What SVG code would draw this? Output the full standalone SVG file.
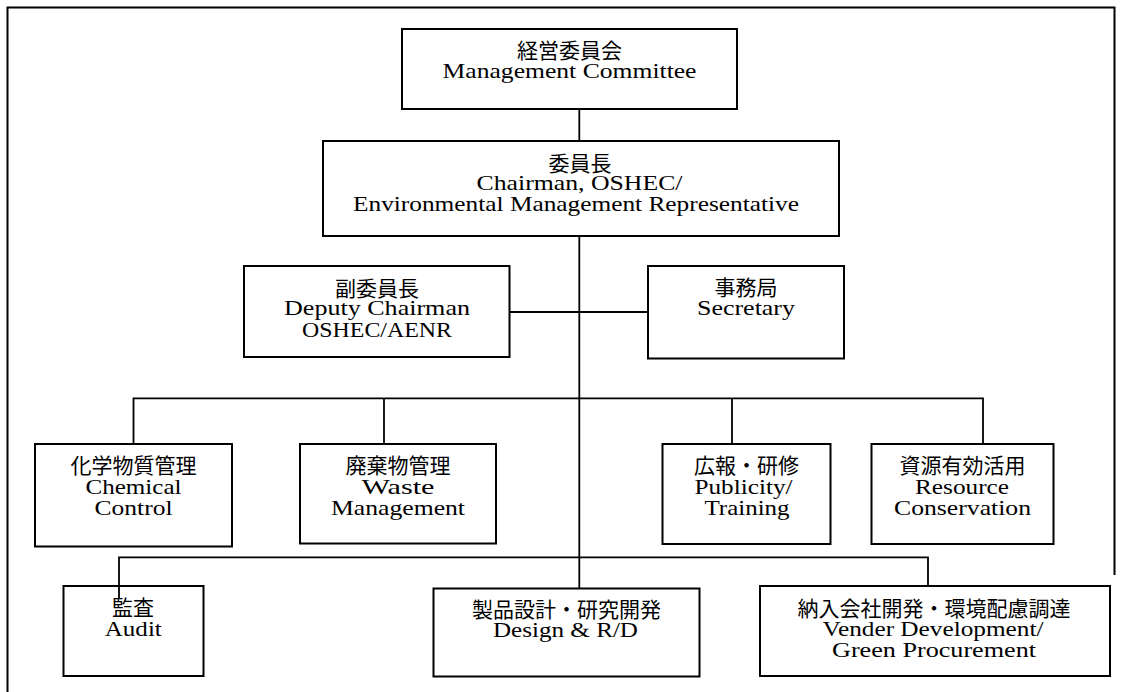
<svg xmlns="http://www.w3.org/2000/svg" width="1122" height="692" viewBox="0 0 1122 692">
  <style>
    .box{fill:#fff;stroke:#000;stroke-width:2}
    .ln{fill:none;stroke:#000;stroke-width:1.8}
    .frame{fill:none;stroke:#000;stroke-width:2}
    .jp{font-family:"Noto Sans CJK JP","Noto Sans CJK SC",sans-serif;font-size:21px;fill:#000;text-anchor:middle}
    .en{font-family:"Liberation Serif","Times New Roman",serif;font-size:21px;fill:#000;text-anchor:middle}
  </style>
  <rect width="1122" height="692" fill="#fff"/>
  <path class="frame" d="M7.5,692 V7.5 H1114.5 V575"/>

  <!-- top level -->
  <g id="management-committee">
    <rect class="box" x="402" y="29" width="335" height="80"/>
    <text class="jp" x="569.5" y="58">経営委員会</text>
    <text class="en" x="569.5" y="78" textLength="254" lengthAdjust="spacingAndGlyphs">Management Committee</text>
  </g>
  <g id="chairman">
    <rect class="box" x="323" y="141" width="516" height="95"/>
    <text class="jp" x="580" y="171">委員長</text>
    <text class="en" x="579.5" y="190" textLength="206" lengthAdjust="spacingAndGlyphs">Chairman, OSHEC/</text>
    <text class="en" x="576" y="211" textLength="446" lengthAdjust="spacingAndGlyphs">Environmental Management Representative</text>
  </g>

  <!-- staff -->
  <g id="deputy-chairman">
    <rect class="box" x="244" y="266" width="265.5" height="91"/>
    <text class="jp" x="377" y="295.5">副委員長</text>
    <text class="en" x="377" y="315" textLength="186" lengthAdjust="spacingAndGlyphs">Deputy Chairman</text>
    <text class="en" x="377" y="336.5" textLength="150" lengthAdjust="spacingAndGlyphs">OSHEC/AENR</text>
  </g>
  <g id="secretary">
    <rect class="box" x="648" y="266" width="196" height="92.5"/>
    <text class="jp" x="746" y="294.5">事務局</text>
    <text class="en" x="746" y="315" textLength="98" lengthAdjust="spacingAndGlyphs">Secretary</text>
  </g>

  <!-- working groups, first row -->
  <g id="chemical-control">
    <rect class="box" x="35" y="444" width="197" height="102.5"/>
    <text class="jp" x="133.5" y="473">化学物質管理</text>
    <text class="en" x="133.5" y="493.5" textLength="96" lengthAdjust="spacingAndGlyphs">Chemical</text>
    <text class="en" x="133.5" y="515" textLength="78" lengthAdjust="spacingAndGlyphs">Control</text>
  </g>
  <g id="waste-management">
    <rect class="box" x="300" y="444" width="196" height="99.5"/>
    <text class="jp" x="398" y="473">廃棄物管理</text>
    <text class="en" x="398" y="493.5" textLength="73" lengthAdjust="spacingAndGlyphs">Waste</text>
    <text class="en" x="398" y="515" textLength="134" lengthAdjust="spacingAndGlyphs">Management</text>
  </g>
  <g id="publicity-training">
    <rect class="box" x="662.5" y="444" width="168" height="100"/>
    <text class="jp" x="746.5" y="473">広報・研修</text>
    <text class="en" x="743.5" y="493.5" textLength="98" lengthAdjust="spacingAndGlyphs">Publicity/</text>
    <text class="en" x="747" y="515" textLength="85" lengthAdjust="spacingAndGlyphs">Training</text>
  </g>
  <g id="resource-conservation">
    <rect class="box" x="871.5" y="444" width="182" height="100"/>
    <text class="jp" x="962.5" y="473">資源有効活用</text>
    <text class="en" x="962" y="493.5" textLength="94" lengthAdjust="spacingAndGlyphs">Resource</text>
    <text class="en" x="962.5" y="515" textLength="137" lengthAdjust="spacingAndGlyphs">Conservation</text>
  </g>

  <!-- working groups, second row -->
  <g id="audit">
    <rect class="box" x="63.5" y="586" width="140" height="90"/>
    <text class="jp" x="133" y="614.5">監査</text>
    <text class="en" x="133.3" y="636" textLength="57" lengthAdjust="spacingAndGlyphs">Audit</text>
  </g>
  <g id="design-rd">
    <rect class="box" x="433.5" y="588.5" width="266" height="88"/>
    <text class="jp" x="566.5" y="617">製品設計・研究開発</text>
    <text class="en" x="565.5" y="637" textLength="145" lengthAdjust="spacingAndGlyphs">Design &amp; R/D</text>
  </g>
  <g id="vender-development">
    <rect class="box" x="760" y="586" width="350" height="90"/>
    <text class="jp" x="934" y="616">納入会社開発・環境配慮調達</text>
    <text class="en" x="933" y="636" textLength="221" lengthAdjust="spacingAndGlyphs">Vender Development/</text>
    <text class="en" x="934" y="656.5" textLength="204" lengthAdjust="spacingAndGlyphs">Green Procurement</text>
  </g>

  <!-- connectors -->
  <g id="connectors">
    <path class="ln" d="M579.3,109 V141"/>
    <path class="ln" d="M579.3,236 V588.5"/>
    <path class="ln" d="M509.5,312 H648"/>
    <path class="ln" d="M133.5,444 V398.3 H983 V444"/>
    <path class="ln" d="M384,398.3 V444"/>
    <path class="ln" d="M732,398.3 V444"/>
    <path class="ln" d="M119,598 V557.3 H928 V586"/>
  </g>
</svg>
